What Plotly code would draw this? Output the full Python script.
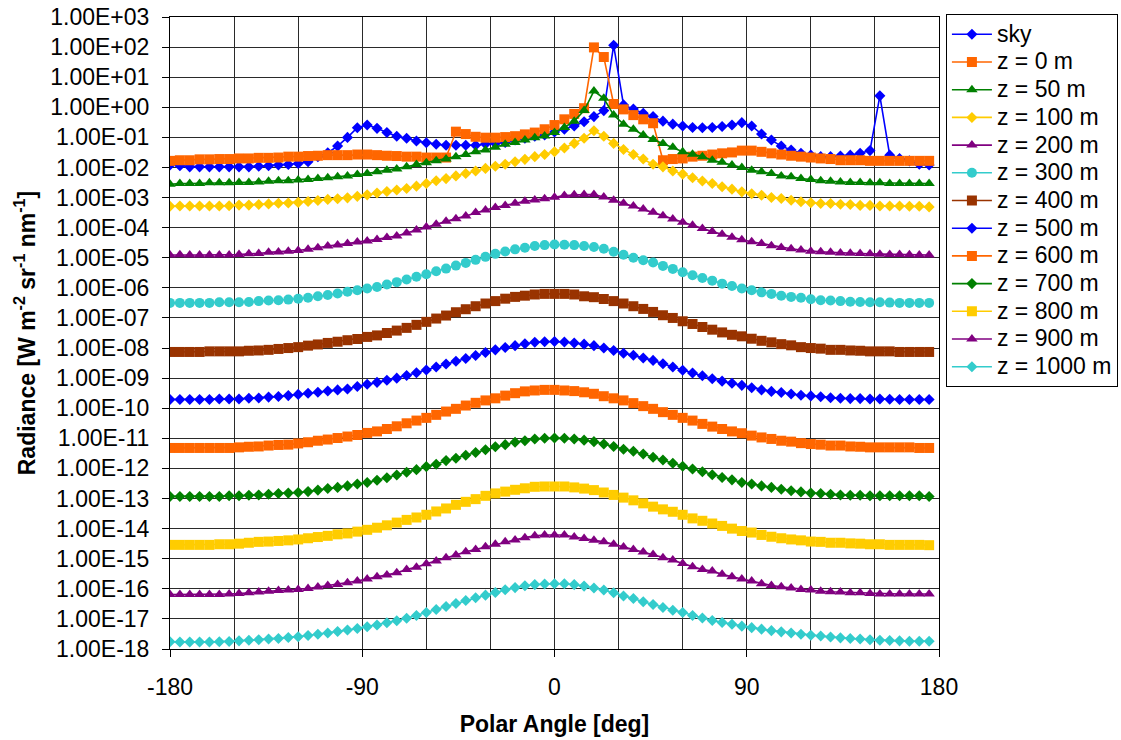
import plotly.graph_objects as go

# Polar angle grid (deg): 78 bins covering the full circle
angles = [
    -180.00, -175.38, -170.77, -166.15, -161.54, -156.92, -152.31, -147.69, -143.08, -138.46,
    -133.85, -129.23, -124.62, -120.00, -115.38, -110.77, -106.15, -101.54, -96.92, -92.31,
    -87.69, -83.08, -78.46, -73.85, -69.23, -64.62, -60.00, -55.38, -50.77, -46.15,
    -41.54, -36.92, -32.31, -27.69, -23.08, -18.46, -13.85, -9.23, -4.62, 0.00,
    4.62, 9.23, 13.85, 18.46, 23.08, 27.69, 32.31, 36.92, 41.54, 46.15,
    50.77, 55.38, 60.00, 64.62, 69.23, 73.85, 78.46, 83.08, 87.69, 92.31,
    96.92, 101.54, 106.15, 110.77, 115.38, 120.00, 124.62, 129.23, 133.85, 138.46,
    143.08, 147.69, 152.31, 156.92, 161.54, 166.15, 170.77, 175.38,
]

# Radiance per series, stored as log10 of W m-2 sr-1 nm-1
log_sky = [
    -1.92, -1.94, -1.98, -1.98, -1.98, -1.98, -1.98, -1.98, -1.98, -1.96,
    -1.94, -1.92, -1.90, -1.87, -1.81, -1.64, -1.51, -1.29, -1.00, -0.68,
    -0.59, -0.70, -0.84, -0.96, -1.03, -1.12, -1.18, -1.23, -1.26, -1.26,
    -1.26, -1.26, -1.22, -1.20, -1.17, -1.09, -1.03, -0.96, -0.92, -0.82,
    -0.73, -0.62, -0.48, -0.31, -0.11, 2.06, 0.08, -0.06, -0.20, -0.31,
    -0.46, -0.56, -0.62, -0.67, -0.68, -0.67, -0.64, -0.59, -0.51, -0.62,
    -0.89, -1.09, -1.29, -1.42, -1.53, -1.59, -1.64, -1.64, -1.62, -1.59,
    -1.53, -1.44, 0.38, -1.59, -1.70, -1.78, -1.89, -1.92,
]
log_z0 = [
    -1.78, -1.76, -1.76, -1.73, -1.73, -1.72, -1.72, -1.70, -1.70, -1.68,
    -1.68, -1.67, -1.64, -1.64, -1.62, -1.61, -1.59, -1.59, -1.59, -1.57,
    -1.57, -1.59, -1.61, -1.62, -1.64, -1.64, -1.67, -1.67, -1.67, -0.81,
    -0.89, -0.98, -1.01, -1.01, -0.99, -0.96, -0.90, -0.84, -0.73, -0.59,
    -0.40, -0.22, -0.03, 1.99, 1.67, 0.11, -0.07, -0.26, -0.40, -0.53,
    -1.76, -1.72, -1.70, -1.64, -1.61, -1.57, -1.53, -1.50, -1.44, -1.44,
    -1.48, -1.53, -1.57, -1.61, -1.64, -1.67, -1.70, -1.72, -1.76, -1.76,
    -1.76, -1.78, -1.78, -1.78, -1.78, -1.78, -1.78, -1.78,
]
log_z50 = [
    -2.56, -2.53, -2.53, -2.53, -2.51, -2.51, -2.51, -2.50, -2.50, -2.48,
    -2.46, -2.44, -2.44, -2.42, -2.40, -2.37, -2.34, -2.31, -2.28, -2.23,
    -2.20, -2.14, -2.09, -2.05, -1.98, -1.90, -1.84, -1.78, -1.72, -1.64,
    -1.57, -1.48, -1.42, -1.33, -1.23, -1.17, -1.09, -1.01, -0.95, -0.84,
    -0.67, -0.46, -0.11, 0.54, 0.30, -0.26, -0.56, -0.73, -0.92, -1.07,
    -1.20, -1.33, -1.48, -1.56, -1.64, -1.76, -1.83, -1.92, -2.00, -2.09,
    -2.14, -2.20, -2.28, -2.31, -2.37, -2.40, -2.44, -2.46, -2.48, -2.50,
    -2.50, -2.51, -2.51, -2.53, -2.53, -2.53, -2.53, -2.53,
]
log_z100 = [
    -3.29, -3.28, -3.28, -3.28, -3.28, -3.28, -3.27, -3.25, -3.25, -3.23,
    -3.21, -3.19, -3.18, -3.16, -3.13, -3.10, -3.06, -3.04, -3.01, -2.96,
    -2.91, -2.85, -2.80, -2.75, -2.70, -2.62, -2.53, -2.44, -2.37, -2.28,
    -2.20, -2.12, -2.03, -1.96, -1.89, -1.81, -1.73, -1.64, -1.57, -1.48,
    -1.35, -1.20, -1.03, -0.78, -0.96, -1.20, -1.40, -1.57, -1.72, -1.89,
    -1.98, -2.12, -2.22, -2.34, -2.45, -2.53, -2.64, -2.72, -2.81, -2.87,
    -2.92, -3.00, -3.03, -3.09, -3.14, -3.17, -3.20, -3.20, -3.22, -3.23,
    -3.26, -3.26, -3.28, -3.28, -3.28, -3.29, -3.29, -3.31,
]
log_z200 = [
    -4.91, -4.90, -4.91, -4.91, -4.91, -4.91, -4.91, -4.89, -4.87, -4.86,
    -4.82, -4.81, -4.78, -4.76, -4.72, -4.67, -4.61, -4.58, -4.53, -4.48,
    -4.44, -4.39, -4.33, -4.28, -4.18, -4.08, -3.98, -3.89, -3.79, -3.70,
    -3.61, -3.50, -3.41, -3.33, -3.26, -3.19, -3.12, -3.08, -3.04, -2.99,
    -2.93, -2.91, -2.90, -2.90, -2.98, -3.09, -3.19, -3.28, -3.38, -3.49,
    -3.60, -3.71, -3.82, -3.92, -4.03, -4.13, -4.22, -4.32, -4.40, -4.47,
    -4.53, -4.60, -4.66, -4.70, -4.74, -4.78, -4.80, -4.82, -4.84, -4.85,
    -4.86, -4.87, -4.88, -4.89, -4.89, -4.90, -4.91, -4.91,
]
log_z300 = [
    -6.50, -6.50, -6.50, -6.50, -6.50, -6.48, -6.48, -6.48, -6.47, -6.44,
    -6.42, -6.41, -6.39, -6.36, -6.33, -6.28, -6.24, -6.19, -6.13, -6.08,
    -6.02, -5.97, -5.89, -5.81, -5.72, -5.63, -5.55, -5.45, -5.36, -5.26,
    -5.17, -5.07, -4.97, -4.87, -4.79, -4.72, -4.67, -4.61, -4.58, -4.56,
    -4.57, -4.58, -4.61, -4.64, -4.70, -4.80, -4.90, -5.00, -5.08, -5.16,
    -5.27, -5.37, -5.48, -5.58, -5.67, -5.76, -5.86, -5.94, -6.02, -6.08,
    -6.15, -6.20, -6.26, -6.30, -6.33, -6.38, -6.41, -6.42, -6.44, -6.46,
    -6.47, -6.48, -6.48, -6.49, -6.50, -6.50, -6.50, -6.50,
]
log_z400 = [
    -8.13, -8.13, -8.13, -8.13, -8.11, -8.11, -8.11, -8.11, -8.09, -8.08,
    -8.06, -8.03, -8.00, -7.97, -7.92, -7.88, -7.83, -7.79, -7.74, -7.70,
    -7.63, -7.58, -7.50, -7.42, -7.33, -7.23, -7.13, -7.02, -6.92, -6.81,
    -6.71, -6.61, -6.52, -6.44, -6.36, -6.30, -6.26, -6.22, -6.20, -6.20,
    -6.20, -6.22, -6.28, -6.31, -6.37, -6.44, -6.52, -6.61, -6.70, -6.80,
    -6.91, -7.00, -7.11, -7.20, -7.30, -7.39, -7.48, -7.56, -7.61, -7.69,
    -7.76, -7.81, -7.87, -7.91, -7.97, -8.00, -8.02, -8.06, -8.06, -8.08,
    -8.09, -8.11, -8.11, -8.11, -8.13, -8.13, -8.13, -8.13,
]
log_z500 = [
    -9.71, -9.71, -9.71, -9.71, -9.71, -9.69, -9.69, -9.69, -9.67, -9.66,
    -9.63, -9.61, -9.58, -9.54, -9.50, -9.47, -9.43, -9.39, -9.36, -9.28,
    -9.20, -9.14, -9.07, -9.00, -8.91, -8.82, -8.73, -8.63, -8.53, -8.44,
    -8.35, -8.25, -8.15, -8.06, -7.98, -7.92, -7.86, -7.81, -7.79, -7.78,
    -7.80, -7.83, -7.87, -7.92, -8.00, -8.08, -8.17, -8.24, -8.33, -8.41,
    -8.52, -8.63, -8.74, -8.83, -8.92, -9.02, -9.10, -9.17, -9.24, -9.32,
    -9.39, -9.44, -9.48, -9.53, -9.57, -9.59, -9.62, -9.65, -9.67, -9.68,
    -9.68, -9.69, -9.69, -9.70, -9.71, -9.71, -9.71, -9.71,
]
log_z600 = [
    -11.32, -11.32, -11.32, -11.32, -11.32, -11.32, -11.32, -11.30, -11.28, -11.27,
    -11.24, -11.22, -11.21, -11.17, -11.13, -11.08, -11.04, -10.99, -10.94, -10.89,
    -10.82, -10.77, -10.69, -10.60, -10.50, -10.41, -10.32, -10.22, -10.11, -10.02,
    -9.91, -9.82, -9.74, -9.67, -9.58, -9.50, -9.44, -9.41, -9.39, -9.39,
    -9.41, -9.43, -9.47, -9.52, -9.60, -9.67, -9.74, -9.83, -9.93, -10.02,
    -10.13, -10.22, -10.32, -10.41, -10.52, -10.61, -10.69, -10.77, -10.83, -10.91,
    -10.97, -11.02, -11.08, -11.11, -11.16, -11.19, -11.21, -11.24, -11.24, -11.27,
    -11.28, -11.30, -11.30, -11.30, -11.30, -11.30, -11.32, -11.32,
]
log_z700 = [
    -12.93, -12.93, -12.93, -12.93, -12.93, -12.93, -12.91, -12.91, -12.89, -12.88,
    -12.86, -12.83, -12.82, -12.80, -12.77, -12.72, -12.67, -12.63, -12.58, -12.52,
    -12.47, -12.39, -12.31, -12.22, -12.13, -12.04, -11.94, -11.86, -11.74, -11.66,
    -11.56, -11.47, -11.38, -11.28, -11.21, -11.13, -11.08, -11.02, -11.00, -10.99,
    -11.00, -11.02, -11.06, -11.11, -11.19, -11.27, -11.36, -11.43, -11.52, -11.63,
    -11.72, -11.83, -11.93, -12.02, -12.11, -12.21, -12.30, -12.38, -12.47, -12.52,
    -12.58, -12.63, -12.69, -12.74, -12.78, -12.82, -12.83, -12.86, -12.88, -12.89,
    -12.89, -12.91, -12.91, -12.91, -12.91, -12.91, -12.91, -12.93,
]
log_z800 = [
    -14.54, -14.54, -14.54, -14.54, -14.54, -14.52, -14.52, -14.50, -14.47, -14.44,
    -14.43, -14.41, -14.39, -14.36, -14.32, -14.28, -14.24, -14.19, -14.16, -14.10,
    -14.04, -13.97, -13.89, -13.80, -13.71, -13.63, -13.54, -13.43, -13.33, -13.21,
    -13.11, -13.02, -12.91, -12.83, -12.77, -12.71, -12.66, -12.61, -12.60, -12.60,
    -12.60, -12.63, -12.67, -12.72, -12.80, -12.88, -12.97, -13.06, -13.16, -13.27,
    -13.36, -13.44, -13.54, -13.66, -13.74, -13.83, -13.91, -14.00, -14.08, -14.13,
    -14.21, -14.27, -14.32, -14.36, -14.39, -14.43, -14.44, -14.47, -14.47, -14.49,
    -14.50, -14.52, -14.52, -14.54, -14.54, -14.54, -14.54, -14.55,
]
log_z900 = [
    -16.19, -16.19, -16.19, -16.19, -16.19, -16.19, -16.17, -16.16, -16.13, -16.11,
    -16.08, -16.06, -16.04, -16.02, -15.99, -15.94, -15.89, -15.86, -15.80, -15.74,
    -15.67, -15.60, -15.54, -15.47, -15.36, -15.28, -15.17, -15.08, -14.97, -14.88,
    -14.77, -14.69, -14.60, -14.52, -14.44, -14.38, -14.30, -14.24, -14.21, -14.21,
    -14.21, -14.28, -14.33, -14.39, -14.44, -14.52, -14.61, -14.69, -14.78, -14.86,
    -14.97, -15.04, -15.16, -15.27, -15.36, -15.41, -15.52, -15.60, -15.67, -15.74,
    -15.83, -15.89, -15.93, -15.97, -16.02, -16.04, -16.08, -16.10, -16.11, -16.13,
    -16.13, -16.16, -16.17, -16.17, -16.17, -16.17, -16.17, -16.17,
]
log_z1000 = [
    -17.76, -17.77, -17.77, -17.77, -17.77, -17.76, -17.75, -17.73, -17.71, -17.69,
    -17.67, -17.65, -17.62, -17.59, -17.55, -17.51, -17.47, -17.42, -17.37, -17.32,
    -17.26, -17.20, -17.13, -17.06, -16.98, -16.89, -16.79, -16.69, -16.59, -16.49,
    -16.39, -16.30, -16.21, -16.12, -16.03, -15.96, -15.90, -15.86, -15.84, -15.83,
    -15.83, -15.86, -15.91, -15.97, -16.04, -16.13, -16.24, -16.32, -16.43, -16.52,
    -16.62, -16.71, -16.79, -16.89, -16.97, -17.05, -17.12, -17.18, -17.24, -17.29,
    -17.34, -17.39, -17.43, -17.47, -17.51, -17.54, -17.57, -17.60, -17.63, -17.65,
    -17.67, -17.69, -17.71, -17.72, -17.73, -17.74, -17.74, -17.74,
]

series_names = ["sky", "z = 0 m", "z = 50 m", "z = 100 m", "z = 200 m", "z = 300 m",
                "z = 400 m", "z = 500 m", "z = 600 m", "z = 700 m", "z = 800 m",
                "z = 900 m", "z = 1000 m"]
series_logs = [log_sky, log_z0, log_z50, log_z100, log_z200, log_z300, log_z400,
               log_z500, log_z600, log_z700, log_z800, log_z900, log_z1000]

xtickvals = [-180, -90, 0, 90, 180]
xticktext = ["-180", "-90", "0", "90", "180"]

# Excel-style palette and marker cycle
BLUE, ORANGE, GREEN, GOLD = "#0000FF", "#FF6600", "#008000", "#FFCC00"
PURPLE, TEAL, BROWN = "#800080", "#33CCCC", "#993300"
styles = [
    (BLUE, "diamond", 8.5), (ORANGE, "square", 10), (GREEN, "triangle-up", 10),
    (GOLD, "diamond", 8.5), (PURPLE, "triangle-up", 10), (TEAL, "circle", 10),
    (BROWN, "square", 10), (BLUE, "diamond", 8.5), (ORANGE, "square", 10),
    (GREEN, "diamond", 8.5), (GOLD, "square", 10), (PURPLE, "triangle-up", 10),
    (TEAL, "diamond", 8.5),
]

FONT = "Liberation Sans, Arial, sans-serif"

fig = go.Figure()
for name, logs, (color, symbol, size) in zip(series_names, series_logs, styles):
    fig.add_trace(go.Scatter(
        x=angles,
        y=[10 ** v for v in logs],
        mode="lines+markers",
        name=f'<span style="font-size:23px">{name}</span>',
        line=dict(color=color, width=1.6),
        marker=dict(symbol=symbol, size=size, color=color, line=dict(width=0)),
    ))

decades = list(range(-18, 4))
ytickvals = [10.0 ** k for k in decades]
yticktext = [f"1.00E{k:+03d}" for k in decades]

GRID = "#2a2a2a"

fig.update_layout(
    width=1121, height=740,
    margin=dict(l=170, r=182, t=17, b=91, autoexpand=False),
    paper_bgcolor="white", plot_bgcolor="white",
    font=dict(family=FONT, size=23, color="black"),
    legend=dict(
        x=1.009, y=1.004, xanchor="left", yanchor="top",
        bgcolor="white", bordercolor="black", borderwidth=1,
        font=dict(family=FONT, size=19, color="black"),
        itemwidth=40, tracegroupgap=0, maxheight=720,
    ),
    xaxis=dict(
        range=[-180, 180],
        tickmode="array", tickvals=xtickvals, ticktext=xticktext,
        ticks="outside", ticklen=7, tickcolor="black", tickwidth=1,
        ticklabelstandoff=10,
        showline=True, linecolor="black", linewidth=1, mirror=True,
        showgrid=True, gridcolor=GRID, gridwidth=1,
        minor=dict(tick0=-180, dtick=30, showgrid=True, gridcolor=GRID,
                   gridwidth=1, ticks=""),
        zeroline=False, automargin=False,
        title=dict(text="<b>Polar Angle [deg]</b>", font=dict(size=23), standoff=17),
    ),
    yaxis=dict(
        type="log", range=[-18, 3],
        tickmode="array", tickvals=ytickvals, ticktext=yticktext,
        ticks="outside", ticklen=7, tickcolor="black", tickwidth=1,
        ticklabelstandoff=8,
        showline=True, linecolor="black", linewidth=1, mirror=True,
        showgrid=True, gridcolor=GRID, gridwidth=1,
        zeroline=False, automargin=False,
        title=dict(text="<b>Radiance [W m<sup>-2</sup> sr<sup>-1</sup> nm<sup>-1</sup>]</b>",
                   font=dict(size=23), standoff=8),
    ),
)

fig.write_html("out.html")
